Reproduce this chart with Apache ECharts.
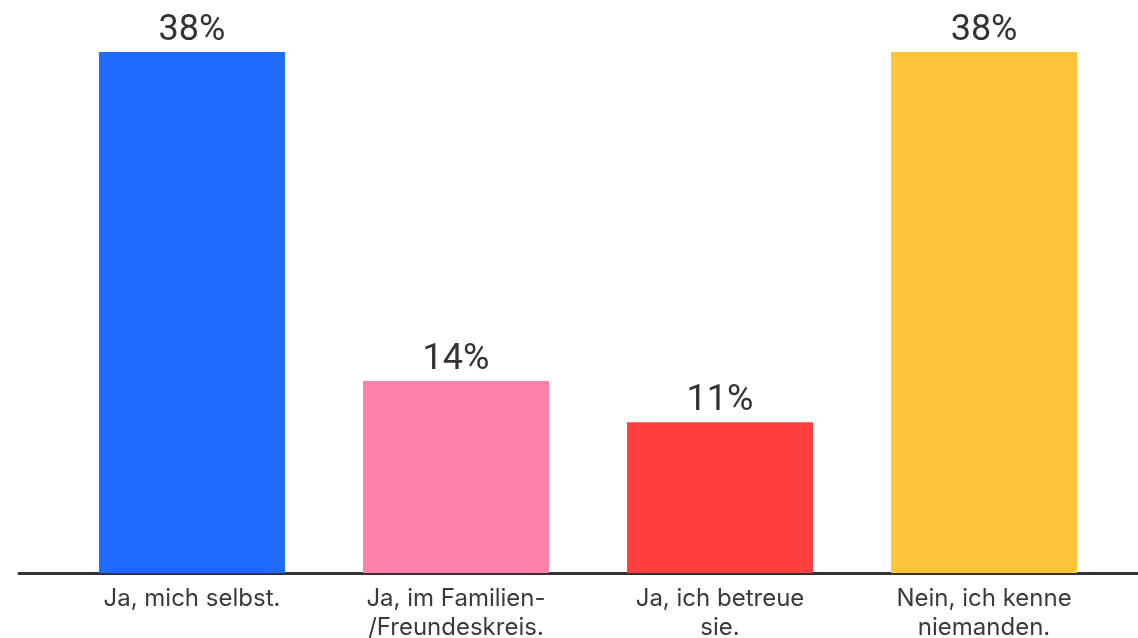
<!DOCTYPE html>
<html><head><meta charset="utf-8">
<script src="https://cdn.jsdelivr.net/npm/echarts@6/dist/echarts.min.js"></script>
<style>html,body{margin:0;padding:0;background:#fff}#c{width:1138px;height:638px}</style>
</head><body><div id="c"></div>
<script>
const categories = ["Ja, mich selbst.", "Ja, im Familien-\n/Freundeskreis.", "Ja, ich betreue\nsie.", "Nein, ich kenne\nniemanden."];
const values = [38, 14, 11, 38];
const colors = ["#1f6bff", "#ff80a8", "#ff3f3d", "#ffc53a"];
const positions = [0, 1, 2, 3];

const chart = echarts.init(document.getElementById('c'));
chart.setOption({
  animation: false,
  grid: {left: 19, right: 0, top: 52, bottom: 65, containLabel: false, outerBoundsMode: 'none'},
  xAxis: {
    type: 'value', min: -0.655, max: 3.583,
    axisLine: {show: true, onZero: false, lineStyle: {color: '#333', width: 3}},
    axisTick: {show: false},
    splitLine: {show: false},
    axisLabel: {
      customValues: positions,
      formatter: v => categories[Math.round(v)],
      color: '#3a3a3a', fontSize: 24, fontFamily: 'Inter', lineHeight: 29, margin: 11
    }
  },
  yAxis: {type: 'value', min: 0, max: 38, show: false},
  series: [{
    type: 'bar', barWidth: 186,
    data: values.map((v, i) => ({value: [positions[i], v], itemStyle: {color: colors[i]}})),
    label: {show: true, position: 'top', distance: 3, formatter: p => p.value[1] + '%', color: '#333', fontSize: 36, fontFamily: 'Roboto'}
  }]
});
</script></body></html>
